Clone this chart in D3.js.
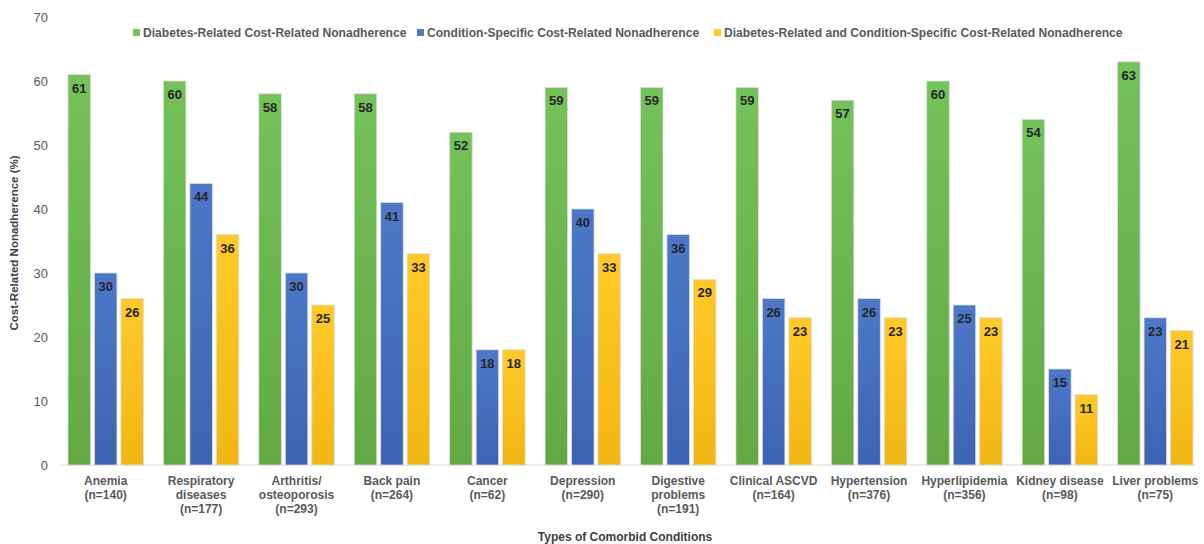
<!DOCTYPE html>
<html>
<head>
<meta charset="utf-8">
<script src="https://cdn.jsdelivr.net/npm/d3@7"></script>
<style>
  body { margin: 0; background: #fff; }
  text { font-family: "Liberation Sans", Arial, sans-serif; }
</style>
</head>
<body>
<script>
/* Data */

var categories = [
	["Anemia", "(n=140)"],
	["Respiratory", "diseases", "(n=177)"],
	["Arthritis/", "osteoporosis", "(n=293)"],
	["Back pain", "(n=264)"],
	["Cancer", "(n=62)"],
	["Depression", "(n=290)"],
	["Digestive", "problems", "(n=191)"],
	["Clinical ASCVD", "(n=164)"],
	["Hypertension", "(n=376)"],
	["Hyperlipidemia", "(n=356)"],
	["Kidney disease", "(n=98)"],
	["Liver problems", "(n=75)"]
];

var seriesNames = [
	"Diabetes-Related Cost-Related Nonadherence",
	"Condition-Specific Cost-Related Nonadherence",
	"Diabetes-Related and Condition-Specific Cost-Related Nonadherence"
];

var diabetesRelated   = [61, 60, 58, 58, 52, 59, 59, 59, 57, 60, 54, 63];
var conditionSpecific = [30, 44, 30, 41, 18, 40, 36, 26, 26, 25, 15, 23];
var bothRelated       = [26, 36, 25, 33, 18, 33, 29, 23, 23, 23, 11, 21];

var yTicks = [0, 10, 20, 30, 40, 50, 60, 70];

var seriesValues = [diabetesRelated, conditionSpecific, bothRelated];
var colorsTop = ["#74c25a", "#4d78c9", "#ffca28"];
var colorsBottom = ["#62a944", "#3c64b4", "#f1b614"];


/* Canvas */

var width = 1204;
var height = 544;

var svg = d3.select("body").append("svg")
	.attr("width", width)
	.attr("height", height);

var defs = svg.append("defs");
seriesNames.forEach(function(s, i) {
	var g = defs.append("linearGradient")
		.attr("id", "grad" + i)
		.attr("x1", 0).attr("y1", 0).attr("x2", 0).attr("y2", 1);
	g.append("stop").attr("offset", "0%").attr("stop-color", colorsTop[i]);
	g.append("stop").attr("offset", "100%").attr("stop-color", colorsBottom[i]);
});

var y = d3.scaleLinear().domain([0, 70]).range([465, 17]);

var x0 = d3.scaleBand()
	.domain(d3.range(categories.length))
	.range([58, 1203])
	.padding(0);

var x1 = d3.scaleBand()
	.domain(d3.range(seriesNames.length))
	.range([10, x0.bandwidth() - 10])
	.paddingInner(0.15)
	.paddingOuter(0);

// y tick labels (no axis line)
svg.append("g")
	.selectAll("text")
	.data(yTicks)
	.enter().append("text")
		.attr("x", 48)
		.attr("y", function(d) { return y(d); })
		.attr("dy", "0.35em")
		.attr("text-anchor", "end")
		.attr("fill", "#595959")
		.attr("font-size", 13)
		.text(function(d) { return d; });

// baseline
svg.append("line")
	.attr("x1", 60).attr("x2", 1196)
	.attr("y1", y(0)).attr("y2", y(0))
	.attr("stroke", "#d9d9d9")
	.attr("stroke-width", 1.2);

// bars
var groups = svg.append("g")
	.selectAll("g")
	.data(categories)
	.enter().append("g")
		.attr("transform", function(d, i) { return "translate(" + x0(i) + ",0)"; });

groups.each(function(cat, ci) {
	var g = d3.select(this);
	var vals = seriesValues.map(function(arr, si) { return {s: si, v: arr[ci]}; });

	g.selectAll("rect")
		.data(vals)
		.enter().append("rect")
			.attr("x", function(d) { return x1(d.s); })
			.attr("y", function(d) { return y(d.v); })
			.attr("width", x1.bandwidth())
			.attr("height", function(d) { return y(0) - y(d.v); })
			.attr("fill", function(d) { return "url(#grad" + d.s + ")"; })
			.attr("stroke", "#dcdcdc")
			.attr("stroke-width", 0.8);

	g.selectAll("text.val")
		.data(vals)
		.enter().append("text")
			.attr("class", "val")
			.attr("x", function(d) { return x1(d.s) + x1.bandwidth() / 2; })
			.attr("y", function(d) { return y(d.v) + 18; })
			.attr("text-anchor", "middle")
			.attr("font-size", 13)
			.attr("font-weight", "bold")
			.attr("fill", "#262626")
			.text(function(d) { return d.v; });

	// category label
	var lbl = g.append("text")
		.attr("text-anchor", "middle")
		.attr("font-size", 12)
		.attr("font-weight", "bold")
		.attr("fill", "#595959");
	cat.forEach(function(line, li) {
		lbl.append("tspan")
			.attr("x", x0.bandwidth() / 2)
			.attr("y", 485 + li * 14)
			.text(line);
	});
});

// y axis title
svg.append("text")
	.attr("transform", "translate(18," + 243 + ") rotate(-90)")
	.attr("text-anchor", "middle")
	.attr("font-size", 11.5)
	.attr("font-weight", "bold")
	.attr("fill", "#404040")
	.text("Cost-Related Nonadherence (%)");

// x axis title
svg.append("text")
	.attr("x", 625)
	.attr("y", 541)
	.attr("text-anchor", "middle")
	.attr("font-size", 12)
	.attr("font-weight", "bold")
	.attr("fill", "#404040")
	.text("Types of Comorbid Conditions");

// legend
var legendX = [133, 417, 714];
var legend = svg.append("g")
	.selectAll("g")
	.data(seriesNames)
	.enter().append("g")
		.attr("transform", function(d, i) { return "translate(" + legendX[i] + ",33)"; });

legend.append("rect")
	.attr("x", 0).attr("y", -4)
	.attr("width", 7).attr("height", 7)
	.attr("fill", function(d, i) { return colorsTop[i]; });

legend.append("text")
	.attr("x", 10)
	.attr("y", 0)
	.attr("dy", "0.35em")
	.attr("font-size", 12.1)
	.attr("font-weight", "bold")
	.attr("fill", "#595959")
	.text(function(d) { return d; });
</script>
</body>
</html>
